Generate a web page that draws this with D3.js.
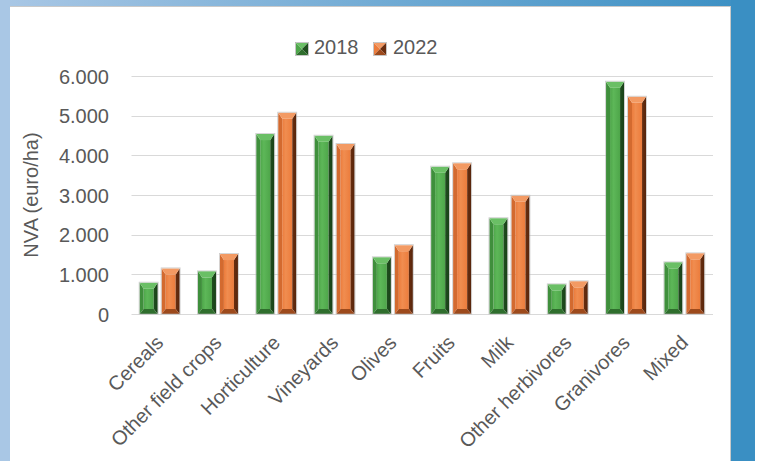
<!DOCTYPE html>
<html>
<head>
<meta charset="utf-8">
<script src="https://cdn.jsdelivr.net/npm/d3@7"></script>
<style>
  html, body { margin: 0; padding: 0; background: #fff; }
  svg { display: block; font-family: "Liberation Sans", Arial, sans-serif; }
</style>
</head>
<body>
<svg id="chart" width="760" height="461"></svg>
<script>
// Net value added per hectare by farm type
const categories = ["Cereals", "Other field crops", "Horticulture", "Vineyards", "Olives",
                    "Fruits", "Milk", "Other herbivores", "Granivores", "Mixed"];
const seriesNames = ["2018", "2022"];
const values2018 = [790, 1075, 4537, 4495, 1430, 3715, 2415, 748, 5857, 1303];
const values2022 = [1150, 1512, 5075, 4285, 1735, 3800, 2983, 824, 5478, 1530];
const yTicks = [0, 1000, 2000, 3000, 4000, 5000, 6000];
const yTitle = "NVA (euro/ha)";

const rows = categories.map((c, i) => ({ cat: c, vals: [values2018[i], values2022[i]] }));

const svg = d3.select("#chart");
const W = 760, H = 461;
const defs = svg.append("defs");

// ---- frame: blue slide background with a white panel ----
const topGrad = defs.append("linearGradient").attr("id", "topGrad")
  .attr("x1", "0").attr("x2", "1").attr("y1", "0").attr("y2", "0");
topGrad.append("stop").attr("offset", "0").attr("stop-color", "#a9c7e5");
topGrad.append("stop").attr("offset", "1").attr("stop-color", "#3a8fc3");

svg.append("rect").attr("width", W).attr("height", H).attr("fill", "#ffffff");
svg.append("rect").attr("x", 0).attr("y", 0).attr("width", 755).attr("height", 7).attr("fill", "url(#topGrad)");
svg.append("rect").attr("x", 0).attr("y", 0).attr("width", 10).attr("height", H).attr("fill", "#a9c7e5");
svg.append("rect").attr("x", 731).attr("y", 0).attr("width", 24).attr("height", H).attr("fill", "#3a8fc3");
svg.append("rect").attr("x", 10).attr("y", 7).attr("width", 721).attr("height", H - 7).attr("fill", "#ffffff");
svg.append("line").attr("x1", 10).attr("x2", 731).attr("y1", 6.5).attr("y2", 6.5).attr("stroke", "#c9c9c9");
svg.append("line").attr("x1", 730.5).attr("x2", 730.5).attr("y1", 6.5).attr("y2", H).attr("stroke", "#c9c9c9");

// ---- scales ----
const plotLeft = 130.5, plotRight = 713.5, plotTop = 76, plotBottom = 314;
const x0 = d3.scaleBand().domain(categories).range([plotLeft, plotRight])
  .paddingInner(0.314).paddingOuter(0.157);
const x1 = d3.scaleBand().domain(seriesNames).range([0, x0.bandwidth()]).paddingInner(0.18);
const y = d3.scaleLinear().domain([0, 6000]).range([plotBottom, plotTop]);

const loc = d3.formatLocale({ decimal: ",", thousands: ".", grouping: [3], currency: ["", "€"] });
const fmt = loc.format(",");

const textColor = "#595959";

// ---- gridlines ----
svg.append("g").selectAll("line").data(yTicks).join("line")
  .attr("x1", 131.5).attr("x2", 713)
  .attr("y1", d => Math.round(y(d)) + 0.5).attr("y2", d => Math.round(y(d)) + 0.5)
  .attr("stroke", "#d9d9d9").attr("stroke-width", 1.2);

// ---- y axis labels ----
const yAxis = d3.axisLeft(y).tickValues(yTicks).tickFormat(fmt).tickSize(0).tickPadding(0);
const gy = svg.append("g").attr("transform", "translate(109,0)").call(yAxis);
gy.select(".domain").remove();
gy.selectAll("text").attr("font-size", 20).attr("fill", textColor)
  .attr("font-family", "'Liberation Sans', Arial, sans-serif").attr("dy", "0.36em");

svg.append("text")
  .attr("transform", `translate(38,${(plotTop + plotBottom) / 2}) rotate(-90)`)
  .attr("text-anchor", "middle").attr("font-size", 20).attr("fill", textColor)
  .text(yTitle);

// ---- x axis labels (rotated) ----
const xAxis = d3.axisBottom(x0).tickSize(0).tickPadding(0);
const gx = svg.append("g").attr("transform", `translate(0,${plotBottom})`).call(xAxis);
gx.select(".domain").remove();
gx.selectAll("text")
  .attr("font-size", 20).attr("fill", textColor)
  .attr("font-family", "'Liberation Sans', Arial, sans-serif")
  .attr("text-anchor", "end")
  .attr("dy", null).attr("y", null)
  .attr("transform", "translate(5,30) rotate(-45)");

// ---- bevelled bar styles ----
const palettes = [
  { top: "#6abf65", mid: "#4ea64a", hi: "#5db758", left: "#3f8f3c", right: "#1f4f1e", bottom: "#2f6e2d" },
  { top: "#f39a63", mid: "#ec7c3c", hi: "#f08d50", left: "#d36a2f", right: "#6a2e0f", bottom: "#9d4a1c" }
];
palettes.forEach((p, i) => {
  const g = defs.append("linearGradient").attr("id", "face" + i)
    .attr("x1", "0").attr("x2", "1").attr("y1", "0").attr("y2", "0");
  g.append("stop").attr("offset", "0").attr("stop-color", p.mid);
  g.append("stop").attr("offset", "0.35").attr("stop-color", p.hi);
  g.append("stop").attr("offset", "1").attr("stop-color", p.mid);
  const r = defs.append("linearGradient").attr("id", "rside" + i)
    .attr("x1", "0").attr("x2", "1").attr("y1", "0").attr("y2", "0");
  r.append("stop").attr("offset", "0").attr("stop-color", p.right);
  r.append("stop").attr("offset", "1").attr("stop-color", d3.color(p.right).darker(0.6));
});

function facets(x, yTop, w, h) {
  const bs = 4, bt = Math.min(6, h / 2), bb = Math.min(5, h / 2);
  const yB = yTop + h;
  return {
    top:    [[x, yTop], [x + w, yTop], [x + w - bs, yTop + bt], [x + bs, yTop + bt]],
    left:   [[x, yTop], [x + bs, yTop + bt], [x + bs, yB - bb], [x, yB]],
    right:  [[x + w, yTop], [x + w, yB], [x + w - bs, yB - bb], [x + w - bs, yTop + bt]],
    bottom: [[x, yB], [x + bs, yB - bb], [x + w - bs, yB - bb], [x + w, yB]],
    face:   [x + bs, yTop + bt, w - 2 * bs, Math.max(0, h - bt - bb)]
  };
}
const pts = a => a.map(p => p.join(",")).join(" ");

const groups = svg.append("g").selectAll("g").data(rows).join("g")
  .attr("transform", d => `translate(${x0(d.cat)},0)`);

groups.each(function (d) {
  const g = d3.select(this);
  d.vals.forEach((v, si) => {
    const p = palettes[si];
    const bx = x1(seriesNames[si]), w = x1.bandwidth();
    const yt = y(v), h = y(0) - y(v);
    const f = facets(bx, yt, w, h);
    g.append("rect").attr("x", f.face[0]).attr("y", f.face[1]).attr("width", f.face[2]).attr("height", f.face[3])
      .attr("fill", `url(#face${si})`);
    g.append("polygon").attr("points", pts(f.left)).attr("fill", p.left);
    g.append("polygon").attr("points", pts(f.right)).attr("fill", `url(#rside${si})`);
    g.append("polygon").attr("points", pts(f.bottom)).attr("fill", p.bottom);
    g.append("polygon").attr("points", pts(f.top)).attr("fill", p.top);
    g.append("rect").attr("x", bx - 0.5).attr("y", yt - 0.5).attr("width", w + 1).attr("height", h + 0.5)
      .attr("fill", "none").attr("stroke", "#b8b8b8").attr("stroke-opacity", 0.7).attr("stroke-width", 0.8);
  });
});

// ---- legend ----
const legendItems = [
  { name: seriesNames[0], sx: 296, tx: 314 },
  { name: seriesNames[1], sx: 374, tx: 393 }
];
const lg = svg.append("g");
legendItems.forEach((it, i) => {
  const p = palettes[i];
  const s = 12, sy = 43;
  const cx = it.sx + s / 2, cy = sy + s / 2;
  // pyramid-shaded swatch
  lg.append("polygon").attr("points", pts([[it.sx, sy], [it.sx + s, sy], [cx, cy]])).attr("fill", p.top);
  lg.append("polygon").attr("points", pts([[it.sx, sy], [cx, cy], [it.sx, sy + s]])).attr("fill", p.mid);
  lg.append("polygon").attr("points", pts([[it.sx + s, sy], [it.sx + s, sy + s], [cx, cy]])).attr("fill", p.right);
  lg.append("polygon").attr("points", pts([[it.sx, sy + s], [cx, cy], [it.sx + s, sy + s]])).attr("fill", p.bottom);
  lg.append("rect").attr("x", it.sx - 0.5).attr("y", sy - 0.5).attr("width", s + 1).attr("height", s + 1)
    .attr("fill", "none").attr("stroke", "#b8b8b8").attr("stroke-width", 0.8);
  lg.append("text").attr("x", it.tx).attr("y", 54).attr("font-size", 20).attr("fill", textColor).text(it.name);
});
</script>
</body>
</html>
